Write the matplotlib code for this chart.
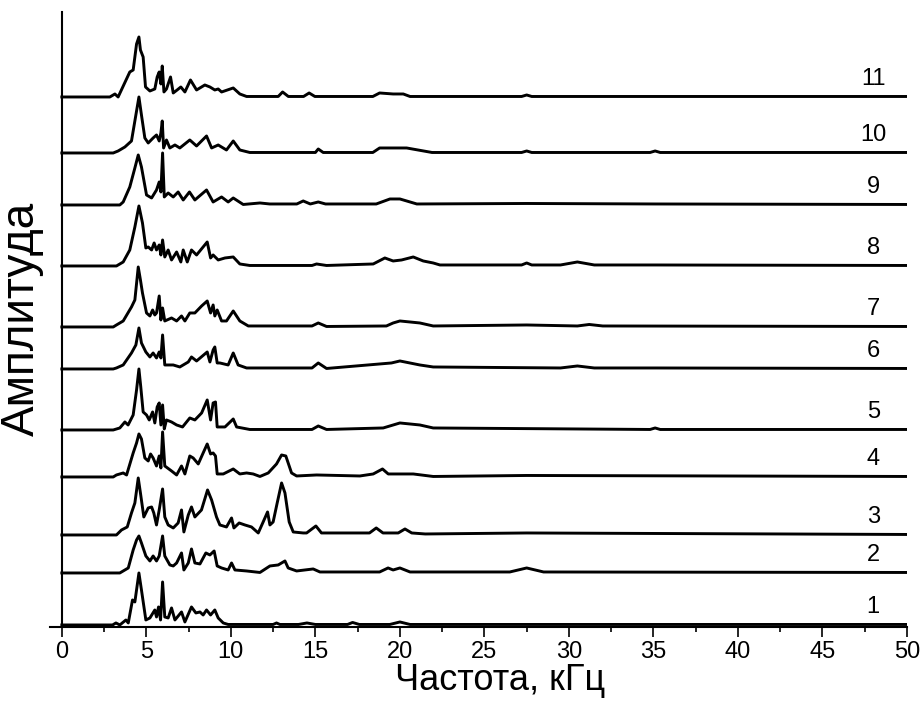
import numpy as np
import matplotlib
matplotlib.use("Agg")
import matplotlib.pyplot as plt
from matplotlib.ticker import MultipleLocator

plt.rcParams['font.family'] = ['Liberation Sans', 'DejaVu Sans']

# spectra: (frequency kHz, amplitude a.u.)
trace_1 = [(0, 0), (3.0, 0), (3.2, 2), (3.43, 0), (3.79, 5), (3.93, 2), (4.18, 25), (4.32, 23), (4.56, 52),
           (4.71, 35), (4.97, 5), (5.21, 7), (5.5, 15), (5.6, 8), (5.72, 18), (5.84, 5), (5.96, 43), (6.09, 8),
           (6.29, 7), (6.49, 17), (6.69, 5), (7.08, 13), (7.28, 3), (7.67, 18), (7.93, 12), (8.17, 13),
           (8.36, 10), (8.56, 15), (8.8, 10), (9.05, 15), (9.25, 7), (9.55, 2), (9.84, 0.5), (12.5, 0.5),
           (12.7, 2), (12.9, 0.5), (14.0, 0.5), (14.5, 2), (15.0, 0.5), (16.9, 0.5), (17.2, 2.5), (17.6, 0.5),
           (19.4, 0.5), (20.0, 3), (20.6, 0.5), (50, 0.5)]
trace_2 = [(0, 0), (3.43, 0), (3.93, 5), (4.22, 23), (4.42, 33), (4.56, 37), (4.71, 30), (4.97, 17), (5.21, 12),
           (5.4, 17), (5.6, 12), (5.76, 17), (5.96, 37), (6.09, 17), (6.39, 8), (6.59, 7), (6.79, 10), (7.08, 20),
           (7.22, 3), (7.48, 10), (7.67, 24), (7.87, 10), (8.17, 9), (8.52, 20), (8.76, 18), (9.01, 22),
           (9.19, 7), (9.45, 5), (9.84, 3), (10.04, 10), (10.24, 3), (10.93, 2), (11.72, 0.5), (12.31, 7),
           (12.8, 8), (13.2, 12), (13.39, 5), (13.89, 2), (14.87, 4), (15.27, 1), (18.8, 1), (19.3, 5),
           (19.6, 3), (20.0, 5), (20.6, 1), (26.5, 1), (27.5, 5), (28.5, 1), (50, 0.5)]
trace_3 = [(0, 0), (3.23, 0), (3.53, 5), (3.87, 8), (4.12, 22), (4.32, 32), (4.52, 57), (4.65, 42), (4.85, 18),
           (5.11, 27), (5.31, 28), (5.44, 22), (5.6, 10), (5.76, 25), (5.96, 46), (6.09, 18), (6.29, 10),
           (6.59, 7), (6.88, 12), (7.08, 25), (7.22, 3), (7.48, 20), (7.67, 28), (7.87, 18), (8.26, 25),
           (8.62, 45), (8.86, 35), (9.15, 18), (9.35, 10), (9.74, 8), (10.04, 17), (10.18, 7), (10.49, 12),
           (10.83, 10), (11.22, 8), (11.62, 2), (11.91, 13), (12.17, 23), (12.31, 10), (12.5, 13), (12.74, 32),
           (13.0, 52), (13.2, 42), (13.45, 13), (13.69, 3), (14.28, 2), (14.48, 2), (15.03, 9), (15.36, 2),
           (16.45, 2), (18.2, 2), (18.6, 7), (19.0, 2), (19.9, 2), (20.3, 6), (20.7, 2), (21.5, 1), (27.5, 2),
           (50, 0.5)]
trace_4 = [(0, 0), (3.04, 0), (3.23, 2), (3.63, 4), (3.83, 2), (4.22, 24), (4.42, 34), (4.56, 43), (4.71, 38),
           (4.91, 19), (5.11, 16), (5.25, 23), (5.4, 19), (5.6, 11), (5.76, 21), (5.86, 9), (5.96, 45),
           (6.09, 11), (6.49, 6), (6.79, 2), (7.08, 11), (7.28, 3), (7.57, 21), (7.77, 19), (8.07, 13),
           (8.36, 24), (8.6, 33), (8.8, 23), (8.95, 24), (9.09, 21), (9.19, 3), (9.55, 3), (10.14, 8),
           (10.53, 3), (10.93, 4), (11.32, 3), (11.72, 0.5), (12.21, 4), (12.7, 13), (13.0, 22), (13.25, 21),
           (13.59, 4), (13.89, 1), (15.07, 2), (17.63, 1), (18.42, 3), (18.97, 8), (19.31, 3), (20.79, 3),
           (21.97, 0.5), (27.5, 1.5), (50, 0.5)]
trace_5 = [(0, 0), (3.04, 0), (3.43, 2), (3.73, 8), (3.92, 5), (4.22, 15), (4.42, 40), (4.56, 61), (4.67, 43),
           (4.81, 18), (5.01, 15), (5.17, 10), (5.37, 18), (5.5, 7), (5.64, 23), (5.76, 27), (5.86, 5),
           (5.96, 25), (6.06, 1), (6.19, 10), (6.49, 8), (6.79, 5), (7.14, 3), (7.57, 12), (7.87, 10),
           (8.27, 17), (8.6, 30), (8.8, 10), (8.95, 27), (9.09, 28), (9.19, 3), (9.65, 3), (10.14, 11),
           (10.34, 3), (11.12, 0.5), (14.8, 0.5), (15.17, 4), (15.66, 0.5), (19.01, 2), (20.0, 7), (21.18, 5),
           (21.97, 2), (34.8, 0.5), (35.1, 2), (35.4, 0.5), (50, 0.5)]
trace_6 = [(0, 0), (3.04, 0), (3.23, 1), (3.63, 4), (4.12, 16), (4.38, 24), (4.56, 41), (4.71, 26), (4.97, 17),
           (5.21, 12), (5.4, 16), (5.6, 11), (5.76, 17), (5.86, 11), (5.96, 34), (6.09, 4), (6.59, 4), (6.98, 2),
           (7.48, 7), (7.67, 12), (7.97, 8), (8.6, 17), (8.76, 7), (8.95, 19), (9.05, 22), (9.19, 6), (9.35, 6),
           (9.84, 4), (10.14, 16), (10.43, 4), (10.93, 1), (14.8, 1), (15.17, 6), (15.66, 0.5), (19.5, 6),
           (20.0, 8), (21.18, 4), (21.97, 2), (29.5, 1), (30.5, 3), (31.5, 1), (35.1, 1), (50, 0.5)]
trace_7 = [(0, 0), (3.04, 0), (3.23, 2), (3.63, 6), (4.12, 20), (4.32, 27), (4.52, 60), (4.65, 47), (4.77, 34),
           (5.01, 14), (5.21, 11), (5.37, 17), (5.5, 12), (5.6, 14), (5.76, 31), (5.86, 7), (5.96, 19), (6.09, 6),
           (6.49, 9), (6.79, 6), (7.08, 11), (7.28, 6), (7.57, 14), (7.87, 14), (8.27, 21), (8.6, 26), (8.8, 14),
           (8.95, 22), (9.05, 11), (9.19, 17), (9.45, 6), (9.74, 6), (10.14, 16), (10.53, 6), (11.03, 1),
           (14.8, 1), (15.17, 4), (15.66, 0.5), (19.2, 1), (19.6, 4), (20.0, 6), (21.18, 4), (21.97, 1),
           (27.5, 2), (30.5, 1), (31.2, 2.5), (32.0, 1), (50, 0.5)]
trace_8 = [(0, 0), (3.23, 0), (3.63, 4), (4.02, 16), (4.32, 39), (4.56, 60), (4.77, 43), (4.97, 18), (5.11, 19),
           (5.31, 16), (5.46, 23), (5.6, 16), (5.76, 21), (5.86, 11), (5.96, 26), (6.09, 9), (6.29, 16), (6.49, 6),
           (6.79, 14), (7.04, 4), (7.18, 16), (7.42, 4), (7.67, 16), (7.97, 11), (8.6, 24), (8.8, 8), (8.95, 11),
           (9.25, 6), (9.65, 8), (10.14, 9), (10.53, 2), (11.12, 0.5), (14.8, 0.5), (15.07, 2), (15.66, 0.5),
           (18.42, 2), (19.11, 8), (19.6, 5), (20.1, 6), (20.79, 9), (21.38, 5), (21.97, 3), (22.37, 1),
           (27.2, 1), (27.5, 3), (27.8, 1), (29.5, 1), (30.5, 4), (31.5, 1), (35.1, 1), (50, 0.5)]
trace_9 = [(0, 0), (3.43, 0), (3.63, 3), (4.02, 18), (4.32, 37), (4.52, 50), (4.71, 38), (5.01, 10), (5.31, 7),
           (5.6, 15), (5.76, 23), (5.86, 13), (5.96, 52), (6.06, 8), (6.29, 12), (6.59, 8), (6.88, 13), (7.18, 5),
           (7.55, 13), (7.87, 5), (8.56, 15), (8.95, 3), (9.45, 8), (9.84, 3), (10.14, 7), (10.73, 0.5),
           (11.72, 2), (12.3, 1), (13.9, 1), (14.28, 4), (14.7, 1), (15.17, 3), (15.6, 1), (18.6, 1), (19.41, 6),
           (20.0, 6), (21.0, 1), (27.5, 1.5), (35.1, 1), (50, 0.5)]
trace_10 = [(0, 0), (3.04, 0), (3.33, 2), (3.73, 6), (4.12, 12), (4.38, 38), (4.56, 56), (4.71, 38), (4.91, 15),
            (5.11, 10), (5.4, 15), (5.6, 18), (5.76, 12), (5.86, 20), (5.94, 32), (6.02, 5), (6.19, 13),
            (6.39, 5), (6.69, 8), (6.98, 5), (7.57, 13), (7.97, 7), (8.56, 17), (8.86, 5), (9.25, 8), (9.74, 3),
            (10.14, 12), (10.53, 3), (11.12, 0.5), (15.0, 0.5), (15.17, 4), (15.46, 0.5), (18.4, 0.5),
            (18.8, 5), (19.5, 5), (20.4, 5), (21.9, 0.5), (27.2, 0.5), (27.5, 2), (27.8, 0.5), (34.8, 0.5),
            (35.1, 2), (35.4, 0.5), (50, 0.5)]
trace_11 = [(0, 0), (2.84, 0), (3.14, 3), (3.33, 0), (4.02, 25), (4.22, 27), (4.42, 53), (4.56, 60), (4.65, 47),
            (4.81, 40), (4.95, 10), (5.21, 6), (5.5, 8), (5.64, 20), (5.76, 25), (5.86, 13), (5.94, 31),
            (6.04, 5), (6.19, 8), (6.43, 20), (6.59, 4), (6.82, 7), (7.04, 10), (7.28, 5), (7.61, 17), (7.97, 7),
            (8.46, 12), (8.76, 10), (9.05, 7), (9.25, 8), (9.45, 5), (10.14, 9), (10.53, 3), (10.93, 0.5),
            (12.8, 0.5), (13.06, 5), (13.4, 0.5), (14.3, 0.5), (14.63, 4), (14.97, 0.5), (18.4, 0.5),
            (18.8, 4), (19.6, 3), (20.2, 3), (20.6, 0.5), (27.2, 0.5), (27.5, 2), (27.8, 0.5), (50, 0.5)]

traces = [trace_1, trace_2, trace_3, trace_4, trace_5, trace_6,
          trace_7, trace_8, trace_9, trace_10, trace_11]
labels = ['1', '2', '3', '4', '5', '6', '7', '8', '9', '10', '11']
offsets = [2, 54, 92, 150, 197, 258, 300, 361, 422, 474, 530]

fig = plt.figure(figsize=(9.21, 7.09), dpi=100)
ax = fig.add_axes([0.0543, 0.1157, 0.9305, 0.8674])

for tr, off, lab in zip(traces, offsets, labels):
    f = np.array([p[0] for p in tr])
    a = np.array([p[1] for p in tr])
    ax.plot(f, a + off, color='k', lw=2.1, solid_joinstyle='round')
    ax.text(48.0, off + 18, lab, fontsize=17, ha='center', va='center')

ax.set_xlim(-0.7, 50)
ax.set_ylim(0, 615)
ax.spines['top'].set_visible(False)
ax.spines['right'].set_visible(False)
ax.spines['left'].set_position(('data', 0))
ax.spines['left'].set_linewidth(1.5)
ax.spines['bottom'].set_linewidth(1.5)
ax.set_yticks([])
ax.xaxis.set_major_locator(MultipleLocator(5))
ax.xaxis.set_minor_locator(MultipleLocator(2.5))
ax.tick_params(axis='x', which='major', direction='out', length=7, width=1.2, labelsize=17, pad=3)
ax.tick_params(axis='x', which='minor', direction='out', length=3.5, width=1.2)

ax.set_xlabel('Частота, кГц', fontsize=26, labelpad=4)
ax.xaxis.set_label_coords(0.525, -0.058)
fig.text(0.024, 0.55, 'Амплитуда', rotation=90, fontsize=33, ha='center', va='center')

fig.savefig('out.png', dpi=100)
